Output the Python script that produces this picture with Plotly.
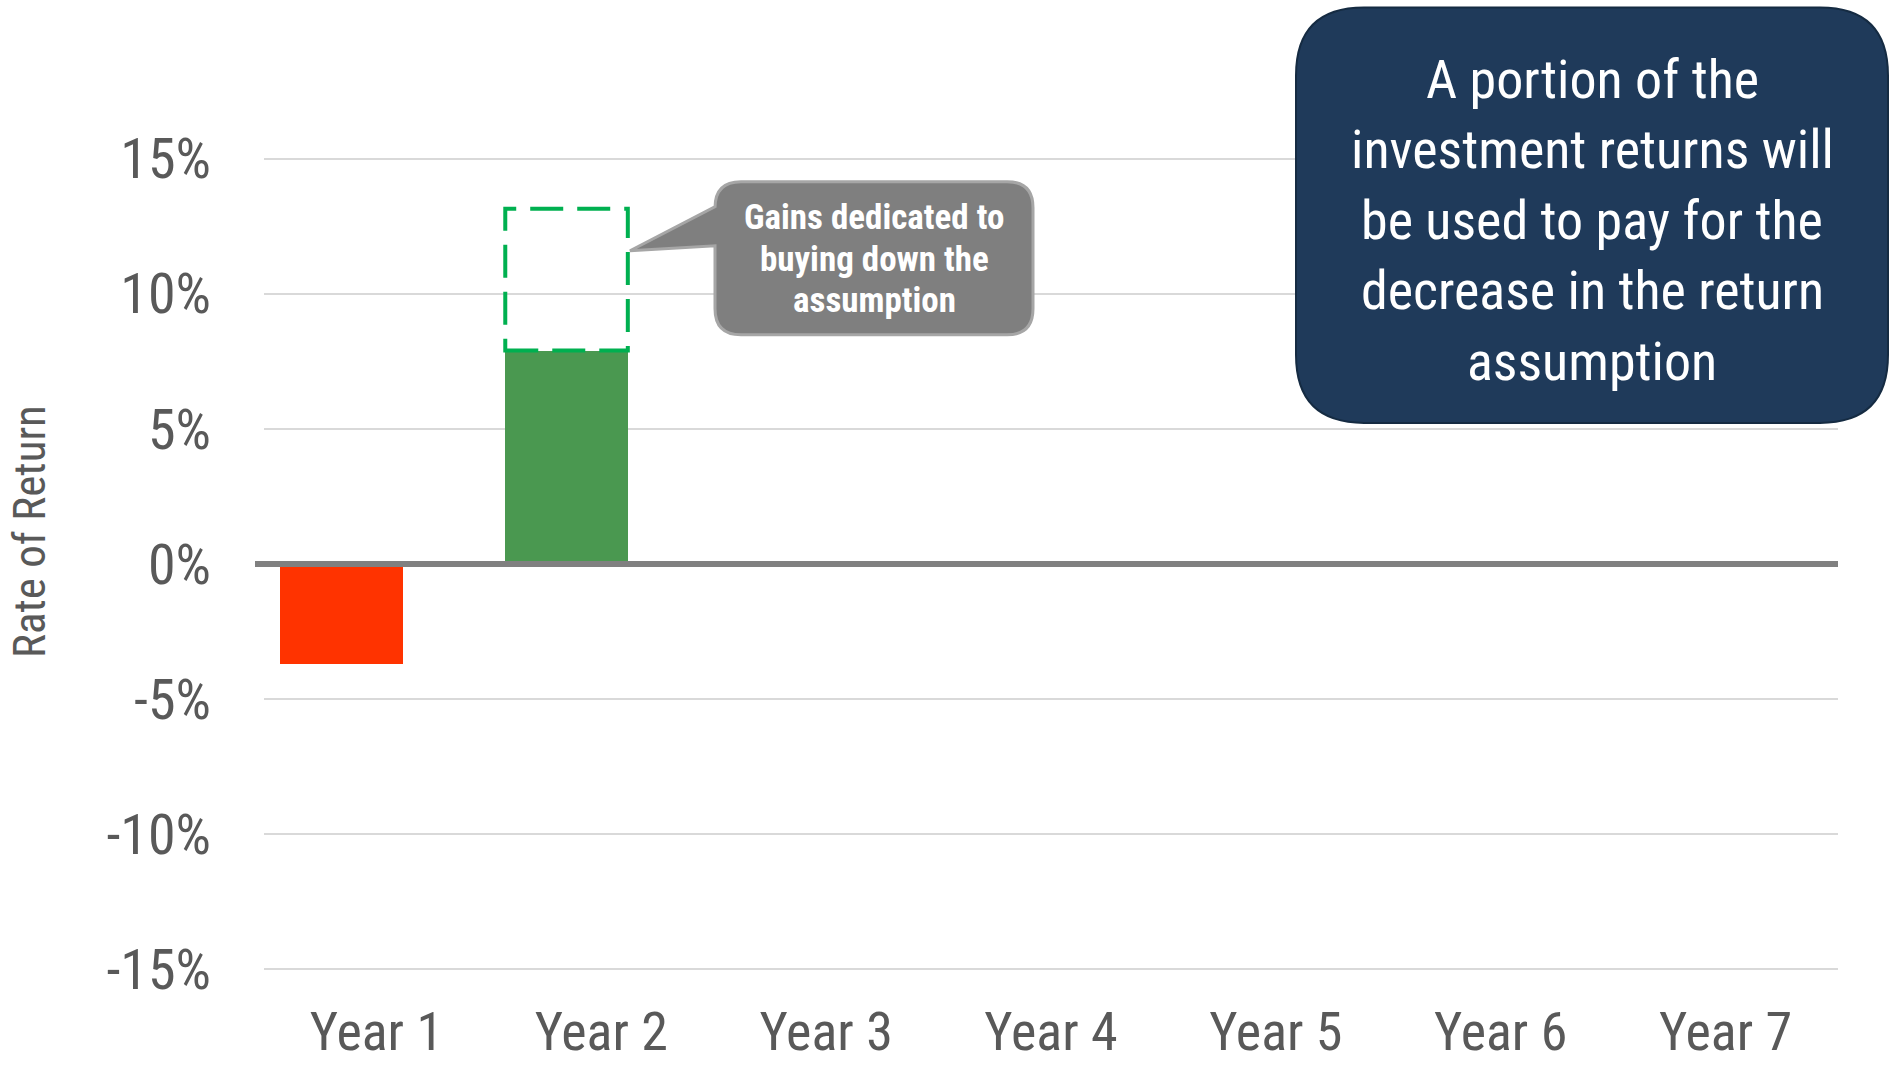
import plotly.graph_objects as go

# ---------------- data ----------------
categories = ["Year 1", "Year 2", "Year 3", "Year 4", "Year 5", "Year 6", "Year 7"]
returns = [-3.7, 7.9, None, None, None, None, None]          # % rate of return
bar_colors = ["#FF3300", "#4A9850", "#4A9850", "#4A9850", "#4A9850", "#4A9850", "#4A9850"]
buydown_year_index = 1
buydown_gain = 5.25                                         # % gains dedicated to buying down
y_tick_vals = [-15, -10, -5, 0, 5, 10, 15]
y_tick_text = ["-15%", "-10%", "-5%", "0%", "5%", "10%", "15%"]
callout_lines = ["Gains dedicated to", "buying down the", "assumption"]
box_lines = ["A portion of the", "investment returns will", "be used to pay for the",
             "decrease in the return", "assumption"]

# ---------------- layout geometry (pixels) ----------------
W, H = 1900, 1065
L, R, T, B = 264, 62, 156.3, 93.3
PW, PH = W - L - R, H - T - B
BAR_OFFSET, BAR_WIDTH = -0.427, 0.545
NARROW = "Liberation Sans Narrow, Arial Narrow, Roboto Condensed, sans-serif"


def px(x):
    return (x - L) / PW


def py(y):
    return (H - B - y) / PH


def rounded_path(x0, y0, x1, y1, r, tail=None):
    s = f"M {px(x0 + r)},{py(y0)} L {px(x1 - r)},{py(y0)} Q {px(x1)},{py(y0)} {px(x1)},{py(y0 + r)} "
    s += f"L {px(x1)},{py(y1 - r)} Q {px(x1)},{py(y1)} {px(x1 - r)},{py(y1)} "
    s += f"L {px(x0 + r)},{py(y1)} Q {px(x0)},{py(y1)} {px(x0)},{py(y1 - r)} "
    if tail:
        (ly, tx, ty, uy) = tail
        s += f"L {px(x0)},{py(ly)} L {px(tx)},{py(ty)} L {px(x0)},{py(uy)} "
    s += f"L {px(x0)},{py(y0 + r)} Q {px(x0)},{py(y0)} {px(x0 + r)},{py(y0)} Z"
    return s


fig = go.Figure()
fig.add_trace(go.Bar(
    x=categories, y=returns,
    marker=dict(color=bar_colors, line=dict(width=0)),
    offset=BAR_OFFSET, width=BAR_WIDTH,
    showlegend=False, hoverinfo="x+y",
))

shapes = []
# dashed "buydown" box stacked on Year 2 bar
shapes.append(dict(
    type="rect", xref="x", yref="y",
    x0=buydown_year_index + BAR_OFFSET, x1=buydown_year_index + BAR_OFFSET + BAR_WIDTH,
    y0=returns[buydown_year_index], y1=returns[buydown_year_index] + buydown_gain,
    line=dict(color="#00B050", width=4, dash="33px,14px"), fillcolor="rgba(0,0,0,0)",
    layer="above",
))
# zero axis line
shapes.append(dict(
    type="line", xref="paper", yref="y", x0=px(255), x1=1, y0=0, y1=0,
    line=dict(color="#808080", width=6), layer="above",
))
# gray callout with tail
shapes.append(dict(
    type="path", xref="paper", yref="paper",
    path=rounded_path(715, 182, 1033, 335, 26, tail=(246, 630, 251, 207)),
    fillcolor="#7F7F7F", line=dict(color="#A6A6A6", width=3), layer="above",
))
# navy text box
shapes.append(dict(
    type="path", xref="paper", yref="paper",
    path=rounded_path(1296, 8, 1888, 423, 68),
    fillcolor="#1F3A5A", line=dict(color="#152B42", width=2), layer="above",
))

annotations = []
for i, t in enumerate(callout_lines):
    annotations.append(dict(
        xref="paper", yref="paper", x=px(874), y=py(218 + i * 41.3),
        text=f"<b>{t}</b>", showarrow=False, xanchor="center", yanchor="middle",
        font=dict(family=NARROW, size=35, color="white"),
    ))
for i, t in enumerate(box_lines):
    annotations.append(dict(
        xref="paper", yref="paper", x=px(1592), y=py(80 + i * 70.3),
        text=t, showarrow=False, xanchor="center", yanchor="middle",
        font=dict(family=NARROW, size=54, color="white"),
    ))
annotations.append(dict(
    xref="paper", yref="paper", x=px(30), y=py(532),
    text="Rate of Return", textangle=-90, showarrow=False,
    xanchor="center", yanchor="middle",
    font=dict(family=NARROW, size=45, color="#595959"),
))

fig.update_layout(
    width=W, height=H,
    margin=dict(l=L, r=R, t=T, b=B, pad=0, autoexpand=False),
    paper_bgcolor="white", plot_bgcolor="white",
    shapes=shapes, annotations=annotations,
    bargap=0,
    xaxis=dict(
        type="category", range=[-0.5, 6.5], showgrid=False, zeroline=False,
        showline=False, ticks="", automargin=False,
        tickfont=dict(family=NARROW, size=54, color="#595959"),
        ticklabelstandoff=23,
    ),
    yaxis=dict(
        range=[-15.1, 15.1], tickvals=y_tick_vals, ticktext=y_tick_text,
        showgrid=True, gridcolor="#D9D9D9", gridwidth=2,
        zeroline=False, showline=False, ticks="", automargin=False,
        tickfont=dict(family=NARROW, size=56, color="#595959"),
        ticklabelstandoff=52,
    ),
)

fig.write_html("out.html")
